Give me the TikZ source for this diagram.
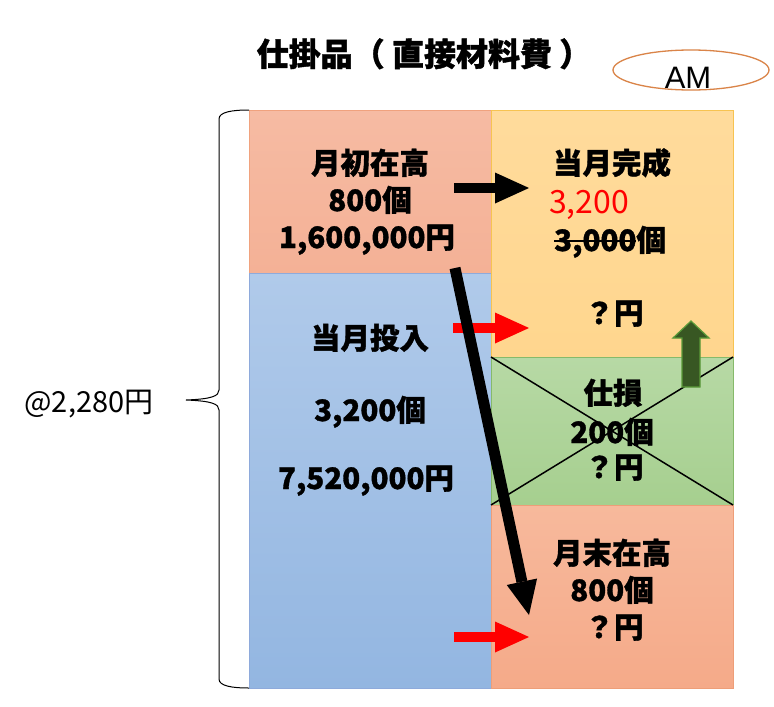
\documentclass[tikz,border=0pt]{standalone}
\usepackage{fontspec}
\setmainfont{Noto Sans CJK JP}[BoldFeatures={FakeBold=1.2}]
\newfontfamily\amfont{Liberation Sans}
\usetikzlibrary{arrows.meta,shapes.geometric}
\definecolor{pinkA}{HTML}{F6BBA3}
\definecolor{pinkB}{HTML}{F4B196}
\definecolor{pinkE}{HTML}{F0A27E}
\definecolor{blueA}{HTML}{B0CAEA}
\definecolor{blueB}{HTML}{93B6E1}
\definecolor{blueE}{HTML}{8EAADB}
\definecolor{yelA}{HTML}{FFDB9C}
\definecolor{yelB}{HTML}{FFD68E}
\definecolor{yelE}{HTML}{F7C351}
\definecolor{grnA}{HTML}{B7D9A5}
\definecolor{grnB}{HTML}{A6CF8F}
\definecolor{grnE}{HTML}{86BA6A}
\definecolor{salA}{HTML}{F7B99C}
\definecolor{salB}{HTML}{F5AA89}
\definecolor{salE}{HTML}{EE9E78}
\definecolor{arrG}{HTML}{385723}
\definecolor{arrGE}{HTML}{5A9A38}
\definecolor{ellE}{HTML}{DA8448}
\newcommand\strk[1]{\setbox0\hbox{#1}\rlap{\rule[0.31em]{\wd0}{1.8pt}}\box0}
\tikzset{
  box/.style={line width=0.8pt, minimum width=242pt, anchor=north west, inner sep=0pt, outer sep=0pt},
  lbl/.style={font=\bfseries\fontsize{29.5}{29.5}\selectfont, inner sep=0pt, text height=22pt, text depth=0pt},
  blkarrow/.style={line width=10pt, -{Triangle[length=34pt,width=31pt,line width=0pt]}},
  redarrow/.style={blkarrow, draw=red},
}
\begin{document}
\begin{tikzpicture}[x=1pt,y=-1pt]
\useasboundingbox (0,0) rectangle (774,707);
\fill[white] (0,0) rectangle (774,707);

% boxes
\node[box, draw=pinkE, top color=pinkA, bottom color=pinkB, minimum height=163pt] (beg) at (249,110) {};
\node[box, draw=blueE, top color=blueA, bottom color=blueB, minimum height=415pt] (inp) at (249,273) {};
\node[box, draw=yelE, top color=yelA, bottom color=yelB, minimum height=247pt] (fin) at (491,110) {};
\node[box, draw=grnE, top color=grnA, bottom color=grnB, minimum height=148pt] (spo) at (491,357) {};
\node[box, draw=salE, top color=salA, bottom color=salB, minimum height=183pt] (endw) at (491,505) {};

% title and AM
\node[font=\bfseries\fontsize{32}{32}\selectfont, inner sep=0pt, text height=24pt, text depth=0pt] (title) at (424,54) {仕掛品（ 直接材料費 ）};
\node[ellipse, draw=ellE, line width=1.3pt, minimum width=156pt, minimum height=40pt, inner sep=0pt] (amE) at (691,70) {};
\node[font=\amfont\fontsize{31}{31}\selectfont, inner sep=0pt, text height=22pt, text depth=0pt] (amT) at (688,77) {AM};

% brace and unit cost
\draw[line width=1pt] (beg.north west) .. controls (232,110) and (219,112) .. (219,119) -- (219,390)
  .. controls (219,396) and (212,399) .. (186,400) .. controls (212,401) and (219,404) .. (219,410)
  -- (219,679) .. controls (219,686) and (232,688) .. (inp.south west);
\node[font=\fontsize{29}{29}\selectfont, inner sep=0pt, text height=21pt, text depth=0pt] (unit) at (89,402) {@2,280円};

% texts: beginning
\node[lbl] (b1) at (370,163) {月初在高};
\node[lbl] (b2) at (370,200) {800個};
\node[lbl] (b3) at (367,237) {1,600,000円};
% input
\node[lbl] (i1) at (370,338) {当月投入};
\node[lbl] (i2) at (370,410) {3,200個};
\node[lbl] (i3) at (366,478) {7,520,000円};
% finished
\node[lbl] (f1) at (612,163) {当月完成};
\node[lbl, anchor=west, text=red, font=\fontsize{32}{32}\selectfont, text height=23pt] (f2) at (549,202) {3,200};
\node[lbl, anchor=west] (f3) at (554,240) {\strk{3,000}個};
\node[lbl] (f4) at (614,313) {？円};
% spoilage
\node[lbl] (s1) at (613,393) {仕損};
\node[lbl] (s2) at (612,432) {200個};
\node[lbl] (s3) at (614,467) {？円};
% ending
\node[lbl] (e1) at (612,553) {月末在高};
\node[lbl] (e2) at (612,590) {800個};
\node[lbl] (e3) at (614,627) {？円};

% cross on spoilage
\draw[line width=1.5pt] (spo.north west) -- (spo.south east);
\draw[line width=1.5pt] (spo.south west) -- (spo.north east);

% arrows
\coordinate (a1s) at (454,188); \coordinate (a1e) at (529,188);
\coordinate (r1s) at (453,328); \coordinate (r1e) at (529,328);
\coordinate (r2s) at (454,637); \coordinate (r2e) at (529,637);
\coordinate (dgs) at (455,268); \coordinate (dge) at (529,615);
\draw[blkarrow] (a1s) -- (a1e);
\draw[redarrow] (r1s) -- (r1e);
\draw[redarrow] (r2s) -- (r2e);
\draw[blkarrow, line width=11pt] (dgs) -- (dge);

% green up arrow
\coordinate (gb) at (691,387);
\filldraw[fill=arrG, draw=arrGE, line width=1.2pt, line join=miter]
  ([xshift=-9pt]gb) -- ([xshift=-9pt,yshift=49pt]gb) -- ([xshift=-18pt,yshift=49pt]gb)
  -- ([yshift=66pt]gb) -- ([xshift=18pt,yshift=49pt]gb) -- ([xshift=9pt,yshift=49pt]gb)
  -- ([xshift=9pt]gb) -- cycle;
\end{tikzpicture}
\end{document}
